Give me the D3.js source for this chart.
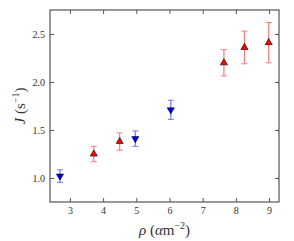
<!DOCTYPE html>
<html>
<head>
<meta charset="utf-8">
<script src="https://cdn.jsdelivr.net/npm/d3@7"></script>
<style>
body { margin: 0; background: #fff; }
text { font-family: "Liberation Serif", "DejaVu Serif", serif; fill: #333; }
</style>
</head>
<body>
<svg></svg>
<script>
// series: down triangles (blue)
const blueX = [2.70, 4.97, 6.04]
const blueY = [1.02, 1.41, 1.71]
const blueErr = [0.065, 0.08, 0.10]

// series: up triangles (red)
const redX = [3.72, 4.50, 7.64, 8.26, 8.99]
const redY = [1.25, 1.38, 2.20, 2.36, 2.41]
const redErr = [0.08, 0.09, 0.137, 0.17, 0.21]

const xTicks = [3, 4, 5, 6, 7, 8, 9]
const yTicks = [1.0, 1.5, 2.0, 2.5]

let width = 294
let height = 241
let margin = {left: 50, right: 15, top: 10, bottom: 39}

let svg = d3.select('svg')
    .attr('width', width)
    .attr('height', height)

let xScale = d3.scaleLinear()
    .domain([2.4, 9.3])
    .range([margin.left, width - margin.right])

let yScale = d3.scaleLinear()
    .domain([0.75, 2.75])
    .range([height - margin.bottom, margin.top])

// axes, ticks pointing inward on all four sides
svg.append('g')
    .attr('transform', 'translate(0,' + (height - margin.bottom) + ')')
    .call(d3.axisBottom(xScale).tickValues(xTicks).tickSizeInner(-4).tickSizeOuter(0).tickPadding(5).tickFormat(d3.format('d')))
svg.append('g')
    .attr('transform', 'translate(0,' + margin.top + ')')
    .call(d3.axisTop(xScale).tickValues(xTicks).tickSizeInner(-4).tickSizeOuter(0).tickFormat(''))
svg.append('g')
    .attr('transform', 'translate(' + margin.left + ',0)')
    .call(d3.axisLeft(yScale).tickValues(yTicks).tickSizeInner(-4).tickSizeOuter(0).tickPadding(5).tickFormat(d3.format('.1f')))
svg.append('g')
    .attr('transform', 'translate(' + (width - margin.right) + ',0)')
    .call(d3.axisRight(yScale).tickValues(yTicks).tickSizeInner(-4).tickSizeOuter(0).tickFormat(''))

svg.selectAll('.domain').remove()
svg.selectAll('.tick line').attr('stroke', '#555')
svg.selectAll('.tick text').style('font-size', '10px').attr('fill', '#333')

// frame
svg.append('rect')
    .attr('x', margin.left)
    .attr('y', margin.top)
    .attr('width', width - margin.left - margin.right)
    .attr('height', height - margin.top - margin.bottom)
    .attr('fill', 'none')
    .attr('stroke', '#555')
    .attr('stroke-width', 1.2)

function drawSeries(xs, ys, errs, barColor, fill, edge, shape) {
    let pts = xs.map((x, i) => ({x: x, y: ys[i], e: errs[i]}))
    let g = svg.append('g')
    g.selectAll('line.bar')
        .data(pts).enter().append('line')
        .attr('x1', d => xScale(d.x)).attr('x2', d => xScale(d.x))
        .attr('y1', d => yScale(d.y - d.e)).attr('y2', d => yScale(d.y + d.e))
        .attr('stroke', barColor).attr('stroke-width', 1.2)
    g.selectAll('line.capTop')
        .data(pts).enter().append('line')
        .attr('x1', d => xScale(d.x) - 3).attr('x2', d => xScale(d.x) + 3)
        .attr('y1', d => yScale(d.y + d.e)).attr('y2', d => yScale(d.y + d.e))
        .attr('stroke', barColor).attr('stroke-width', 1)
    g.selectAll('line.capBot')
        .data(pts).enter().append('line')
        .attr('x1', d => xScale(d.x) - 3).attr('x2', d => xScale(d.x) + 3)
        .attr('y1', d => yScale(d.y - d.e)).attr('y2', d => yScale(d.y - d.e))
        .attr('stroke', barColor).attr('stroke-width', 1)
    g.selectAll('path')
        .data(pts).enter().append('path')
        .attr('d', d3.symbol().type(d3.symbolTriangle).size(22))
        .attr('transform', d => 'translate(' + xScale(d.x) + ',' + yScale(d.y) + ')' + (shape === 'down' ? ' rotate(180)' : ''))
        .attr('fill', fill)
        .attr('stroke', edge)
        .attr('stroke-width', 0.6)
}

drawSeries(blueX, blueY, blueErr, '#7777ff', '#0000dd', '#000044', 'down')
drawSeries(redX, redY, redErr, '#ff7777', '#ff0000', '#000', 'up')

// axis labels
let xl = svg.append('text')
    .attr('x', (margin.left + width - margin.right) / 2)
    .attr('y', 235)
    .attr('text-anchor', 'middle')
    .style('font-size', '15px')
xl.append('tspan').style('font-style', 'italic').text('ρ')
xl.append('tspan').text(' (')
xl.append('tspan').style('font-style', 'italic').text('α')
xl.append('tspan').text('m')
xl.append('tspan').attr('dy', -6).style('font-size', '10px').text('−2')
xl.append('tspan').attr('dy', 6).text(')')

let yl = svg.append('text')
    .attr('transform', 'translate(25,' + ((margin.top + height - margin.bottom) / 2) + ') rotate(-90)')
    .attr('text-anchor', 'middle')
    .style('font-size', '15px')
yl.append('tspan').style('font-style', 'italic').text('J')
yl.append('tspan').text(' (s')
yl.append('tspan').attr('dy', -6).style('font-size', '10px').text('−1')
yl.append('tspan').attr('dy', 6).text(')')
</script>
</body>
</html>
